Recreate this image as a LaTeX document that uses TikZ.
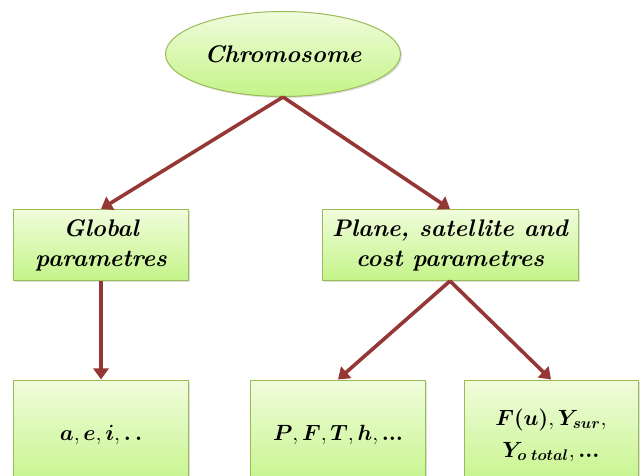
\RequirePackage{fix-cm}
\documentclass[tikz,border=0pt]{standalone}
\usepackage{amsmath}
\usepackage{amssymb}
\usepackage{fontspec}
\usepackage{tikz}
\usetikzlibrary{arrows.meta}
\usetikzlibrary{shapes.geometric}
\usetikzlibrary{shadows}
\definecolor{boxline}{HTML}{9BBB59}
\definecolor{boxtop}{HTML}{F0FCDC}
\definecolor{boxbot}{HTML}{C4F488}
\definecolor{arrowred}{HTML}{953735}
\tikzset{greenbox/.style = {draw=boxline, line width=1pt, top color=boxtop, bottom color=boxbot,
                            drop shadow={opacity=0.25, shadow xshift=1.5pt, shadow yshift=-1.5pt},
                            align=center, font=\fontsize{24}{30}\selectfont\bfseries\itshape},
         mathbox/.style = {greenbox, minimum height=110pt, font=\fontsize{22}{32}\selectfont},
         chrom/.style = {greenbox, ellipse, minimum width=235pt, minimum height=85pt, inner sep=0pt},
         link/.style = {draw=arrowred, line width=3.6pt, -{Triangle[length=11pt,width=15pt]}}}

\begin{document}
\begin{tikzpicture}[x=1pt, y=-1pt]
    \useasboundingbox (0,0) rectangle (641,476);
    \clip (0,0) rectangle (641,476);

    \node[chrom] (chromosome) at (283,54) {Chromosome};
    \node[greenbox, minimum width=175pt, minimum height=71pt] (global) at (101,245) {Global\\parametres};
    \node[greenbox, minimum width=256pt, minimum height=71pt] (plane) at (450,245) {Plane, satellite and\\cost parametres};

    \node[mathbox, minimum width=175pt] (orbit) at (101,435)
        {$\boldsymbol{a}, \boldsymbol{e}, \boldsymbol{i}, \boldsymbol{.\,.}$};
    \node[mathbox, minimum width=175pt] (pfth) at (338,435)
        {$\boldsymbol{P}, \boldsymbol{F}, \boldsymbol{T}, \boldsymbol{h}, \boldsymbol{...}$};
    \node[mathbox, minimum width=174pt] (costs) at (551,435)
        {$\boldsymbol{F(u)}, \boldsymbol{Y_{sur}},$\\$\boldsymbol{Y_{o\;total}}, \boldsymbol{...}$};

    \draw[link] (chromosome.south) -- (global.north);
    \draw[link] (chromosome.south) -- (plane.north);
    \draw[link] (global.south) -- (orbit.north);
    \draw[link] (plane.south) -- (pfth.north);
    \draw[link] (plane.south) -- (costs.north);
\end{tikzpicture}
\end{document}
